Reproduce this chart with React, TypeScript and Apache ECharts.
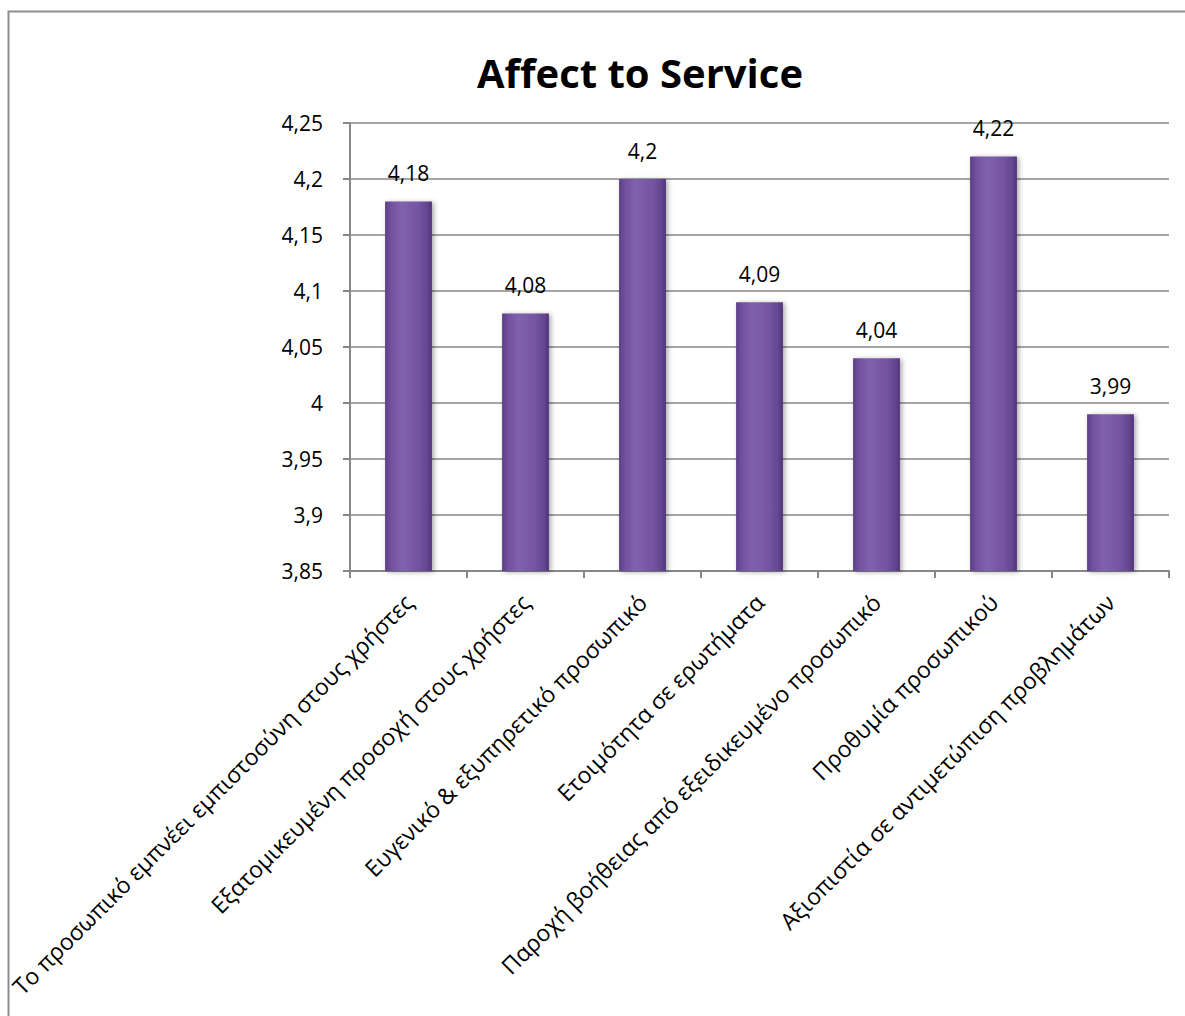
import React, { useEffect, useRef } from "react";
import * as echarts from "echarts";

const categories = [
  "Το προσωπικό εμπνέει εμπιστοσύνη στους χρήστες",
  "Εξατομικευμένη προσοχή στους χρήστες",
  "Ευγενικό & εξυπηρετικό προσωπικό",
  "Ετοιμότητα σε ερωτήματα",
  "Παροχή βοήθειας από εξειδικευμένο προσωπικό",
  "Προθυμία προσωπικού",
  "Αξιοπιστία σε αντιμετώπιση προβλημάτων",
];
const values = [4.18, 4.08, 4.2, 4.09, 4.04, 4.22, 3.99];
const yMin = 3.85;
const yMax = 4.25;
const yStep = 0.05;
const title = "Affect to Service";

const fmt = (v: number) => String(+v.toFixed(2)).replace(".", ",");

export default function App() {
  const ref = useRef<HTMLDivElement>(null);
  useEffect(() => {
    if (!ref.current) return;
    const chart = echarts.init(ref.current, null, { renderer: "svg" });
    const font = "'Open Sans', 'Noto Sans', sans-serif";
    chart.setOption({
      animation: false,
      backgroundColor: "#ffffff",
      graphic: [
        {
          type: "rect",
          shape: { x: 8.5, y: 11.5, width: 1300, height: 1200 },
          style: { fill: "none", stroke: "#8c8c8c", lineWidth: 2 },
          silent: true,
        },
        {
          type: "text",
          x: 640,
          y: 72,
          style: {
            text: title,
            textAlign: "center",
            textVerticalAlign: "middle",
            fontFamily: font,
            fontWeight: "bold",
            fontSize: 40,
            fill: "#000",
          },
          silent: true,
        },
      ],
      grid: {
        left: 350,
        right: 16,
        top: 123,
        bottom: 445,
        containLabel: false,
        outerBoundsMode: "none",
      },
      xAxis: {
        type: "category",
        data: categories,
        boundaryGap: true,
        axisLine: { show: true, lineStyle: { color: "#878787", width: 2 } },
        axisTick: { show: true, length: 7, lineStyle: { color: "#878787", width: 2 } },
        axisLabel: {
          interval: 0,
          rotate: 45,
          margin: 27,
          fontFamily: font,
          fontSize: 23,
          color: "#000",
        },
      },
      yAxis: {
        type: "value",
        min: yMin,
        max: yMax,
        interval: yStep,
        axisLine: { show: true, lineStyle: { color: "#878787", width: 2 } },
        axisTick: { show: true, length: 7, lineStyle: { color: "#878787", width: 2 } },
        splitLine: { show: true, lineStyle: { color: "#878787", width: 1.5 } },
        axisLabel: {
          margin: 27,
          fontFamily: font,
          fontSize: 21,
          color: "#000",
          formatter: (v: number) => fmt(v),
        },
      },
      series: [
        {
          type: "bar",
          data: values,
          barWidth: "40%",
          itemStyle: {
            color: new echarts.graphic.LinearGradient(0, 0, 1, 0, [
              { offset: 0, color: "#5a3d84" },
              { offset: 0.12, color: "#7150a0" },
              { offset: 0.35, color: "#8061ad" },
              { offset: 0.7, color: "#7555a3" },
              { offset: 0.9, color: "#644690" },
              { offset: 1, color: "#4f3477" },
            ]),
            shadowColor: "rgba(0,0,0,0.35)",
            shadowBlur: 5,
            shadowOffsetX: 2,
            shadowOffsetY: 1,
          },
          label: {
            show: true,
            position: "top",
            distance: 18,
            fontFamily: font,
            fontSize: 21,
            color: "#000",
            formatter: (p: any) => fmt(p.value),
          },
        },
      ],
    });
    return () => chart.dispose();
  }, []);
  return (
    <div
      ref={ref}
      style={{ position: "fixed", left: 0, top: 0, width: 1185, height: 1016 }}
    />
  );
}
